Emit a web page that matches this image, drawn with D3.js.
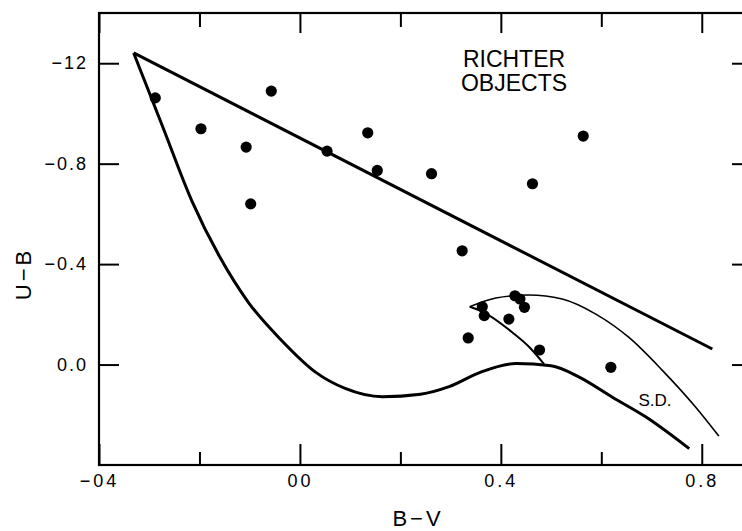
<!DOCTYPE html>
<meta charset="utf-8">
<body style="margin:0;background:#fff">
<script src="https://d3js.org/d3.v7.min.js"></script>
<script>

  let width = 742,
    height = 531;

  // Richter objects, B-V and U-B
  let objBV = [-0.288, -0.197, -0.107, -0.057, 0.135, 0.054, 0.154, 0.262, 0.564, 0.463, -0.098,
    0.323, 0.335, 0.363, 0.367, 0.428, 0.438, 0.447, 0.416, 0.477, 0.619];
  let objUB = [-1.062, -0.939, -0.866, -1.089, -0.923, -0.850, -0.773, -0.760, -0.910, -0.720, -0.640,
    -0.453, -0.106, -0.230, -0.195, -0.274, -0.261, -0.228, -0.181, -0.058, 0.011];

  // upper boundary line
  let lineBV = [-0.331, 0.821],
    lineUB = [-1.241, -0.062];

  // main two-colour curve
  let curveBV = [-0.331, -0.273, -0.215, -0.16, -0.102, -0.036, 0.031, 0.09, 0.164, 0.24, 0.297, 0.36, 0.43, 0.50, 0.556, 0.622, 0.689, 0.775],
    curveUB = [-1.241, -0.946, -0.651, -0.43, -0.246, -0.095, 0.030, 0.095, 0.128, 0.118, 0.088, 0.03, -0.004, 0.005, 0.05, 0.13, 0.209, 0.335];

  // S.D. upper branch and lower branch
  let sdUpBV = [0.338, 0.39, 0.456, 0.522, 0.589, 0.655, 0.722, 0.788, 0.834],
    sdUpUB = [-0.230, -0.265, -0.277, -0.261, -0.201, -0.108, 0.024, 0.170, 0.285];
  let sdLoBV = [0.338, 0.366, 0.423, 0.456, 0.486],
    sdLoUB = [-0.230, -0.208, -0.128, -0.071, -0.002];

  let xMajor = [-0.4, 0.0, 0.4, 0.8],
    xMajorLabels = ["\u221204", "00", "0.4", "0.8"],
    xMinor = [-0.2, 0.2, 0.6],
    yMajor = [-1.2, -0.8, -0.4, 0.0],
    yMajorLabels = ["\u221212", "\u22120.8", "\u22120.4", "0.0"];

  let x = d3.scaleLinear().domain([-0.4, 0.9]).range([99, 752]),
    y = d3.scaleLinear().domain([-1.4, 0.4]).range([13, 465]);

  let svg = d3.select("body").append("svg")
    .attr("width", width)
    .attr("height", height)
    .style("font-family", "'Liberation Sans', Arial, sans-serif");

  // frame
  svg.append("rect")
    .attr("x", x(-0.4)).attr("y", y(-1.4))
    .attr("width", x(0.9) - x(-0.4)).attr("height", y(0.4) - y(-1.4))
    .attr("fill", "none").attr("stroke", "#000").attr("stroke-width", 2.2);

  function styleAxis(g) {
    g.select(".domain").remove();
    g.selectAll(".tick line").attr("stroke", "#000").attr("stroke-width", 2);
    g.selectAll(".tick text").attr("fill", "#000").style("font-size", "18px");
  }

  svg.append("g").attr("transform", "translate(0," + y(0.4) + ")")
    .call(d3.axisBottom(x).tickValues(xMajor).tickSize(-21).tickPadding(9)
      .tickFormat((d, i) => xMajorLabels[i]))
    .call(styleAxis)
    .selectAll(".tick text").style("letter-spacing", "3px");
  svg.append("g").attr("transform", "translate(0," + y(0.4) + ")")
    .call(d3.axisBottom(x).tickValues(xMinor).tickSize(-13).tickFormat(""))
    .call(styleAxis);
  svg.append("g").attr("transform", "translate(0," + y(-1.4) + ")")
    .call(d3.axisTop(x).tickValues(xMajor).tickSize(-20).tickFormat(""))
    .call(styleAxis);
  svg.append("g").attr("transform", "translate(0," + y(-1.4) + ")")
    .call(d3.axisTop(x).tickValues(xMinor).tickSize(-14).tickFormat(""))
    .call(styleAxis);
  svg.append("g").attr("transform", "translate(" + x(-0.4) + ",0)")
    .call(d3.axisLeft(y).tickValues(yMajor).tickSize(-20).tickPadding(11)
      .tickFormat((d, i) => yMajorLabels[i]))
    .call(styleAxis)
    .selectAll(".tick text").style("letter-spacing", "2px");
  svg.append("g").attr("transform", "translate(" + x(0.9) + ",0)")
    .call(d3.axisRight(y).tickValues(yMajor).tickSize(-20).tickFormat(""))
    .call(styleAxis);

  // axis titles
  svg.append("text")
    .attr("x", 418).attr("y", 526)
    .attr("text-anchor", "middle")
    .style("font-size", "22px").style("letter-spacing", "3px")
    .text("B\u2212V");
  svg.append("text")
    .attr("transform", "translate(31,274) rotate(-90)")
    .attr("text-anchor", "middle")
    .style("font-size", "22px").style("letter-spacing", "3px")
    .text("U\u2212B");

  let line = d3.line()
    .x(d => x(d[0]))
    .y(d => y(d[1]))
    .curve(d3.curveMonotoneX);

  function pairs(a, b) { return a.map((v, i) => [v, b[i]]); }

  svg.append("path")
    .attr("d", line(pairs(lineBV, lineUB)))
    .attr("fill", "none").attr("stroke", "#000").attr("stroke-width", 3);
  svg.append("path")
    .attr("d", line(pairs(curveBV, curveUB)))
    .attr("fill", "none").attr("stroke", "#000").attr("stroke-width", 3);
  svg.append("path")
    .attr("d", line(pairs(sdUpBV, sdUpUB)))
    .attr("fill", "none").attr("stroke", "#000").attr("stroke-width", 1.6);
  svg.append("path")
    .attr("d", line(pairs(sdLoBV, sdLoUB)))
    .attr("fill", "none").attr("stroke", "#000").attr("stroke-width", 2);

  svg.selectAll("circle")
    .data(pairs(objBV, objUB))
    .enter().append("circle")
    .attr("cx", d => x(d[0]))
    .attr("cy", d => y(d[1]))
    .attr("r", 5.6)
    .attr("fill", "#000");

  // labels
  svg.append("text")
    .attr("x", 514).attr("y", 67)
    .attr("text-anchor", "middle")
    .style("font-size", "23px")
    .text("RICHTER");
  svg.append("text")
    .attr("x", 514).attr("y", 91)
    .attr("text-anchor", "middle")
    .style("font-size", "23px")
    .text("OBJECTS");
  svg.append("text")
    .attr("x", 655).attr("y", 406)
    .attr("text-anchor", "middle")
    .style("font-size", "17px")
    .text("S.D.");

</script>
